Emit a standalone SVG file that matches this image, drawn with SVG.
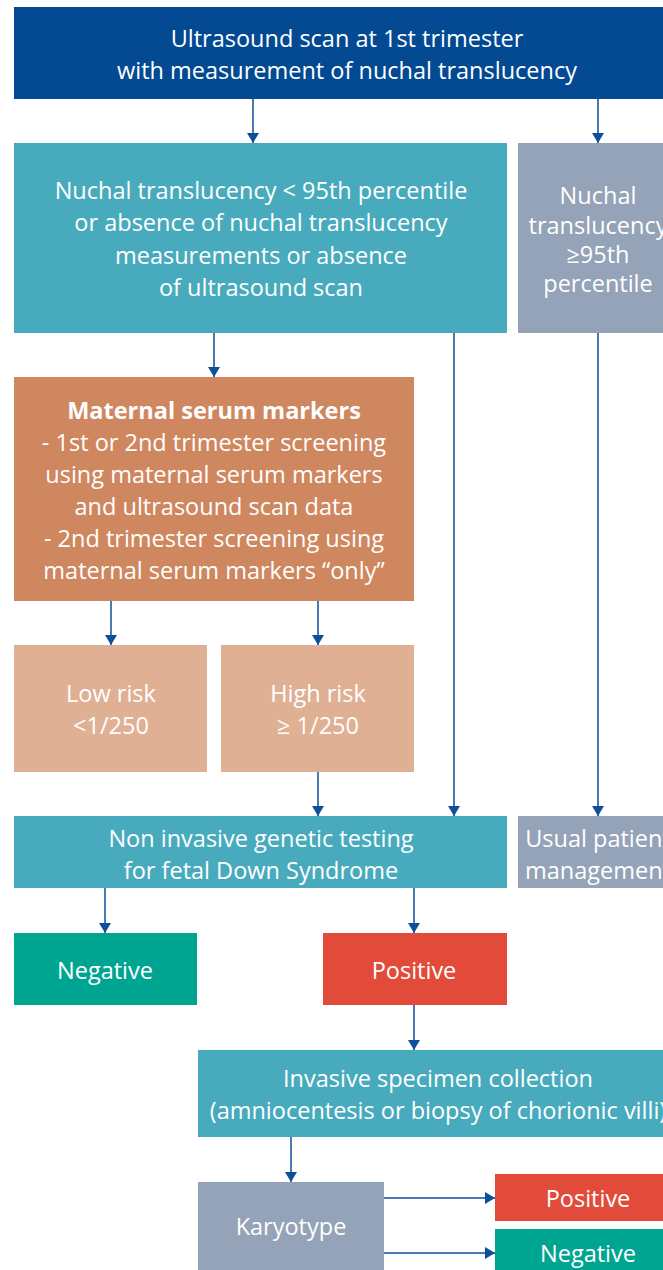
<svg xmlns="http://www.w3.org/2000/svg" width="663" height="1270" viewBox="0 0 663 1270">
<defs>
<marker id="ah" viewBox="0 0 10 12" refX="10" refY="6" markerWidth="10" markerHeight="12" markerUnits="userSpaceOnUse" orient="auto">
<path d="M0,0 L10,6 L0,12 Z" fill="#0d4f98"/>
</marker>
<style>
text{font-family:"Open Sans","Liberation Sans",sans-serif;font-size:23.5px;fill:#ffffff;text-anchor:middle;dominant-baseline:central}
.b{font-weight:bold}
.dark{fill:#034a93}.teal{fill:#48abbd}.gray{fill:#94a3b8}.orange{fill:#cf8760}.lorange{fill:#e0b094}.green{fill:#00a592}.red{fill:#e24b3a}
.c{stroke:#0d4f98;stroke-width:1.5;fill:none;marker-end:url(#ah)}
</style>
</defs>
<g id="n-ultrasound"><rect class="dark" x="14" y="7" width="660" height="92"/><text x="347" y="38">Ultrasound scan at 1st trimester</text><text x="347" y="70">with measurement of nuchal translucency</text></g>
<g id="n-nt-low"><rect class="teal" x="14" y="143" width="493" height="190"/><text x="261" y="190">Nuchal translucency &lt; 95th percentile</text><text x="261" y="222">or absence of nuchal translucency</text><text x="261" y="255">measurements or absence</text><text x="261" y="287">of ultrasound scan</text></g>
<g id="n-nt-high"><rect class="gray" x="518" y="143" width="160" height="190"/><text x="598" y="195">Nuchal</text><text x="598" y="225">translucency</text><text x="598" y="254">≥95th</text><text x="598" y="283">percentile</text></g>
<g id="n-serum"><rect class="orange" x="14" y="377" width="400" height="224"/><text class="b" x="214" y="410">Maternal serum markers</text><text x="214" y="442">- 1st or 2nd trimester screening</text><text x="214" y="474">using maternal serum markers</text><text x="214" y="506">and ultrasound scan data</text><text x="214" y="538">- 2nd trimester screening using</text><text x="214" y="570">maternal serum markers “only”</text></g>
<g id="n-lowrisk"><rect class="lorange" x="14" y="645" width="193" height="127"/><text x="111" y="693">Low risk</text><text x="111" y="725">&lt;1/250</text></g>
<g id="n-highrisk"><rect class="lorange" x="221" y="645" width="193" height="127"/><text x="318" y="693">High risk</text><text x="318" y="725">≥ 1/250</text></g>
<g id="n-nigt"><rect class="teal" x="14" y="816" width="493" height="72"/><text x="261" y="838">Non invasive genetic testing</text><text x="261" y="870">for fetal Down Syndrome</text></g>
<g id="n-usual"><rect class="gray" x="518" y="816" width="160" height="72"/><text x="598" y="838">Usual patient</text><text x="598" y="870">management</text></g>
<g id="n-neg1"><rect class="green" x="14" y="933" width="183" height="72"/><text x="105" y="970">Negative</text></g>
<g id="n-pos1"><rect class="red" x="323" y="933" width="184" height="72"/><text x="414" y="970">Positive</text></g>
<g id="n-invasive"><rect class="teal" x="198" y="1050" width="480" height="87"/><text x="438" y="1078">Invasive specimen collection</text><text x="438" y="1110">(amniocentesis or biopsy of chorionic villi)</text></g>
<g id="n-karyotype"><rect class="gray" x="198" y="1182" width="186" height="88"/><text x="291" y="1226">Karyotype</text></g>
<g id="n-pos2"><rect class="red" x="495" y="1174" width="185" height="47"/><text x="588" y="1198">Positive</text></g>
<g id="n-neg2"><rect class="green" x="495" y="1229" width="185" height="47"/><text x="588" y="1253">Negative</text></g>
<g id="connectors">
<path class="c" d="M253,99 V143"/>
<path class="c" d="M598,99 V143"/>
<path class="c" d="M214,333 V377"/>
<path class="c" d="M454,333 V816"/>
<path class="c" d="M598,333 V816"/>
<path class="c" d="M111,601 V645"/>
<path class="c" d="M318,601 V645"/>
<path class="c" d="M318,772 V816"/>
<path class="c" d="M105,888 V933"/>
<path class="c" d="M414,888 V933"/>
<path class="c" d="M414,1005 V1050"/>
<path class="c" d="M291,1137 V1182"/>
<path class="c" d="M384,1198 H495"/>
<path class="c" d="M384,1253 H495"/>
</g>
</svg>
